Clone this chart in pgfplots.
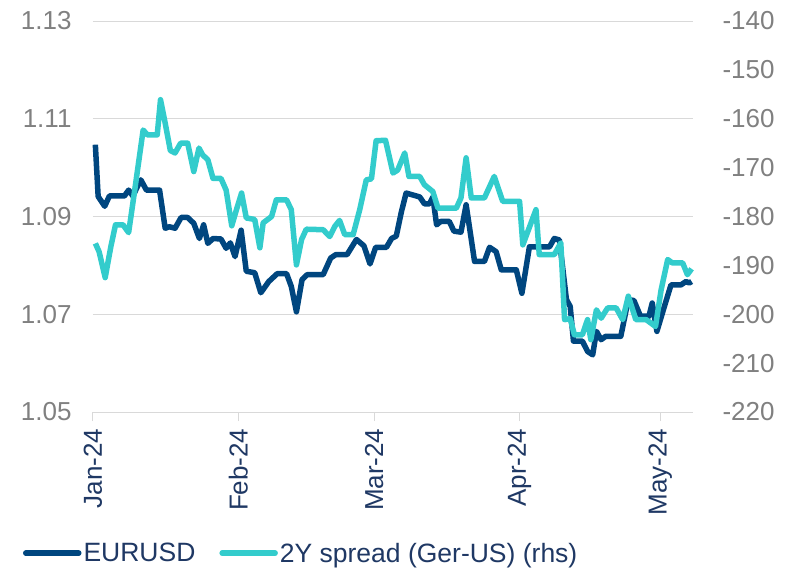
\documentclass[border=0pt]{standalone}
\usepackage{pgfplots}
\pgfplotsset{compat=1.18}
\usepackage{fontspec}
\setmainfont{Liberation Sans}
\definecolor{navy}{RGB}{0,70,127}
\definecolor{tealc}{RGB}{51,204,204}
\definecolor{tickgray}{RGB}{128,128,128}
\definecolor{labnavy}{RGB}{31,56,100}
\definecolor{gridgray}{RGB}{217,217,217}
\begin{document}
\begin{tikzpicture}
\pgfplotsset{
  base/.style={scale only axis, width=600pt, height=391pt, xmin=0, xmax=128,
    at={(0,0)}, anchor=south west, clip=false,
    ytick style={draw=none}, y axis line style={draw=none}},
}
\begin{axis}[base,
  ymin=1.05, ymax=1.13,
  ytick={1.05,1.07,1.09,1.11,1.13},
  yticklabels={1.05,1.07,1.09,1.11,1.13},
  yticklabel style={font=\fontsize{26}{26}\selectfont, text=tickgray, xshift=-9pt},
  axis x line*=bottom, axis y line*=left,
  x axis line style={draw=gridgray, line width=1pt, -},
  xtick={0,31,60,91,121},
  xticklabels={Jan-24,Feb-24,Mar-24,Apr-24,May-24},
  xtick style={draw=gridgray, line width=1pt},
  major tick length=9pt, tick align=outside,
  xticklabel style={rotate=90, anchor=east, font=\fontsize{26}{26}\selectfont, text=labnavy, xshift=-4pt},
  ymajorgrids, grid style={draw=gridgray, line width=1pt},
  legend columns=2,
  legend style={at={(-0.122,-0.361)}, anchor=west, draw=none, fill=none,
    font=\fontsize{26.5}{26.5}\selectfont, text=labnavy,
    /tikz/every even column/.append style={column sep=22pt},
    nodes={inner sep=2pt}},
  legend cell align=left,
  legend image code/.code={\draw[#1, line width=5.5pt, line cap=round] (2.5pt,0pt) -- (55.5pt,0pt);},
]
\addplot[navy, line width=5.5pt, line join=round, no marks] coordinates {
(0.5,1.1047) (1.1,1.0941) (2.5,1.0921) (3.5,1.0942) (6.7,1.0942) (7.6,1.0954)
(8.5,1.0942) (10.2,1.0975) (11.4,1.0954) (14.2,1.0954) (15.4,1.0876) (16.3,1.0879)
(17.5,1.0876) (18.8,1.0898) (20.2,1.0898) (21.5,1.0886) (22.7,1.0855) (23.6,1.0883)
(24.5,1.0845) (25.6,1.0855) (27.3,1.0854) (28.4,1.0835) (29.3,1.0846) (30.3,1.0818)
(31.6,1.0872) (32.7,1.0788) (34.5,1.0785) (35.8,1.0744) (37.5,1.0767) (39.3,1.0783)
(41.3,1.0783) (42.3,1.0757) (43.4,1.0705) (44.6,1.0771) (45.7,1.0781) (49.1,1.0781)
(50.7,1.0815) (51.8,1.0822) (54.2,1.0822) (56.2,1.0853) (57.8,1.0840) (59.1,1.0803)
(60.3,1.0837) (62.6,1.0837) (63.7,1.0855) (64.7,1.0860) (65.8,1.0910) (66.8,1.0948)
(69.7,1.0940) (70.7,1.0926) (71.8,1.0926) (72.5,1.0940) (73.3,1.0883) (74.2,1.0890)
(76.0,1.0890) (77.0,1.0870) (78.5,1.0868) (79.6,1.0924) (81.4,1.0808) (83.5,1.0808)
(84.6,1.0837) (86.0,1.0828) (87.1,1.0791) (90.3,1.0791) (91.5,1.0743) (93.1,1.0838)
(97.4,1.0838) (98.4,1.0855) (99.5,1.0852) (101.0,1.0730) (101.8,1.0716) (102.5,1.0645)
(104.4,1.0645) (105.5,1.0624) (106.6,1.0617) (107.4,1.0665) (108.4,1.0648) (109.4,1.0655)
(112.6,1.0655) (114.2,1.0730) (115.4,1.0728) (116.8,1.0696) (118.6,1.0696) (119.3,1.0723)
(120.3,1.0665) (121.8,1.0713) (123.3,1.0760) (125.4,1.0760) (126.5,1.0767) (127.2,1.0764)
(127.7,1.0767)
};
\addlegendentry{EURUSD}
\addlegendimage{tealc, line width=5.5pt}
\addlegendentry{2Y spread (Ger-US) (rhs)}
\end{axis}
\begin{axis}[base,
  ymin=-220, ymax=-140,
  ytick={-220,-210,-200,-190,-180,-170,-160,-150,-140},
  yticklabels={-220,-210,-200,-190,-180,-170,-160,-150,-140},
  yticklabel style={font=\fontsize{26}{26}\selectfont, text=tickgray, xshift=26pt},
  axis y line*=right, axis x line=none,
]
\addplot[tealc, line width=5.5pt, line join=round, no marks] coordinates {
(0.5,-185.5) (1.3,-187.2) (2.6,-192.5) (3.8,-186.2) (4.8,-181.7) (6.4,-181.7)
(7.6,-183.3) (8.9,-174.6) (10.7,-162.3) (11.6,-163.3) (13.7,-163.3) (14.4,-156.1)
(15.4,-160.9) (16.5,-166.5) (17.5,-167.0) (18.7,-165.0) (20.2,-165.0) (21.5,-170.8)
(22.6,-166.0) (23.4,-167.4) (24.5,-168.4) (25.6,-172.2) (27.3,-172.2) (28.4,-174.6)
(29.6,-181.9) (30.7,-178.3) (31.7,-175.2) (32.7,-180.3) (34.5,-180.6) (35.6,-186.4)
(36.3,-181.3) (38.1,-180.0) (39.1,-176.6) (41.3,-176.6) (42.3,-178.6) (43.4,-189.9)
(44.5,-184.7) (45.5,-182.6) (49.1,-182.7) (50.5,-184.1) (51.6,-182.0) (52.6,-180.8)
(53.7,-183.7) (55.5,-183.7) (56.9,-178.6) (58.3,-172.5) (59.4,-172.3) (60.4,-164.5)
(62.4,-164.4) (64.0,-171.1) (65.0,-170.5) (66.5,-167.0) (67.4,-171.8) (69.7,-171.8)
(70.7,-173.5) (72.5,-174.9) (73.6,-178.3) (77.5,-178.3) (78.5,-176.2) (79.6,-168.0)
(80.7,-176.2) (83.5,-176.2) (85.6,-171.8) (87.4,-176.9) (91.0,-176.9) (91.7,-185.8)
(94.5,-178.6) (95.2,-187.8) (98.4,-187.8) (99.8,-185.4) (100.6,-201.1) (101.8,-200.9)
(102.7,-204.2) (104.4,-204.2) (105.5,-201.1) (106.2,-205.2) (107.4,-199.1) (108.4,-200.8)
(109.8,-198.7) (111.6,-198.7) (113.0,-201.1) (114.2,-196.3) (115.8,-201.1) (118.0,-201.1)
(120.0,-202.5) (121.2,-195.0) (122.6,-188.8) (123.6,-189.5) (125.8,-189.5) (126.8,-191.9)
(127.7,-190.7)
};
\end{axis}
\pgfresetboundingbox
\useasboundingbox (-93pt,-156pt) rectangle (693pt,412pt);
\end{tikzpicture}
\end{document}
